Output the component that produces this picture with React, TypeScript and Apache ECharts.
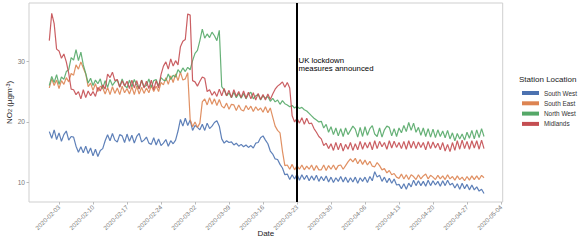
import React, { useEffect, useRef } from "react";
import * as echarts from "echarts";

// Half-daily NO2 readings, starting 2020-02-01 00:00 UTC, one value every 12 hours
const START = "2020-02-01";
const southWest = [
  18.4, 17.3, 18.7, 17.1, 18.2, 16.8, 17.9, 18.5, 17.0, 17.6, 17.5, 16.0, 15.0, 15.9, 14.9, 16.0,
  14.8, 15.7, 14.4, 15.5, 14.3, 15.3, 15.6, 16.9, 17.9, 16.9, 18.1, 17.0, 16.7, 17.9, 17.7, 16.6,
  18.0, 16.8, 17.8, 16.5, 17.6, 18.1, 16.7, 17.0, 17.5, 16.5, 16.3, 17.4, 16.2, 17.2, 16.1, 16.5,
  17.1, 16.0, 16.9, 16.4, 17.0, 18.5, 20.4, 19.3, 20.6, 19.4, 20.3, 18.6, 19.4, 19.1, 18.7, 19.6,
  18.6, 19.8, 18.9, 19.3, 19.9, 20.2, 19.3, 17.2, 16.5, 16.9, 16.6, 16.7, 16.2, 16.5, 16.0, 16.3,
  15.9, 16.2, 15.8, 16.1, 15.7, 16.5, 16.6, 17.4, 17.7, 17.0, 16.4, 15.2, 14.7, 13.9, 13.8, 13.0,
  12.4, 11.3, 11.4, 10.5, 11.3, 10.6, 11.4, 10.4, 11.3, 10.5, 11.2, 10.3, 11.1, 10.4, 11.2, 10.2,
  11.0, 10.3, 11.1, 10.1, 10.9, 10.0, 10.8, 10.2, 11.0, 10.1, 10.9, 10.0, 10.8, 10.1, 10.9, 9.9,
  10.8, 10.2, 10.9, 10.0, 11.0, 10.3, 11.8, 10.9, 11.2, 10.2, 10.9, 10.0, 10.7, 9.9, 10.6, 9.6,
  9.7, 9.0, 9.8, 8.9, 9.9, 9.3, 10.4, 9.5, 10.3, 9.5, 10.2, 9.4, 10.4, 9.5, 10.3, 9.6,
  10.2, 9.4, 10.3, 9.5, 10.4, 9.6, 9.9, 9.1, 9.8, 8.9, 9.9, 9.0, 9.7, 8.8, 9.6, 8.8,
  9.3, 8.6, 8.9, 8.2,
];
const southEast = [
  25.6, 27.1, 26.0, 26.9, 25.5, 26.8, 26.2, 27.3, 26.6, 28.0, 27.7, 29.4, 28.7, 29.9, 28.9, 27.9,
  25.8, 26.4, 25.2, 26.3, 25.0, 25.9, 25.6, 24.6, 25.7, 24.5, 25.8, 24.7, 25.6, 24.5, 25.9, 24.8,
  25.5, 24.6, 25.8, 24.5, 25.9, 24.6, 25.7, 24.7, 25.6, 24.8, 26.0, 25.0, 25.9, 25.0, 26.5, 26.1,
  27.3, 26.2, 27.6, 26.5, 27.9, 26.8, 28.2, 26.9, 27.1, 28.1, 20.4, 19.2, 20.0, 19.1, 19.8, 23.3,
  23.8, 22.8, 24.0, 22.9, 23.8, 22.7, 23.7, 22.6, 22.3, 23.1, 22.1, 22.9, 22.8, 21.9, 22.8, 22.0,
  21.8, 22.7, 22.0, 22.6, 21.7, 22.5, 21.9, 22.3, 21.6, 22.5, 21.5, 22.3, 20.8, 19.3, 18.6, 18.2,
  15.2, 12.8, 12.9, 12.2, 13.0, 12.1, 12.8, 12.2, 12.9, 12.1, 12.7, 12.2, 12.9, 12.0, 12.8, 12.1,
  12.1, 12.9, 12.0, 12.8, 12.2, 12.9, 12.1, 12.8, 12.9, 12.2, 12.8, 13.4, 13.9, 13.4, 14.0, 13.1,
  13.8, 13.0, 13.7, 12.9, 13.5, 12.7, 12.6, 13.3, 12.8, 12.1, 12.3, 11.6, 12.0, 11.3, 11.5, 10.9,
  10.7, 11.4, 10.6, 11.3, 10.5, 11.3, 11.0, 10.5, 11.3, 10.6, 11.1, 11.4, 10.6, 11.2, 10.9, 10.5,
  11.2, 10.6, 11.1, 10.5, 11.3, 10.6, 11.0, 10.4, 11.1, 10.5, 10.9, 10.3, 11.0, 10.4, 11.1, 10.5,
  11.1, 10.5, 11.2, 10.8,
];
const northWest = [
  26.0, 27.5, 26.5, 27.8, 26.2, 27.4, 27.0, 28.3, 28.6, 30.6, 30.2, 31.9, 30.1, 31.5, 29.4, 28.0,
  26.4, 27.2, 26.0, 26.9, 26.3, 27.1, 25.5, 26.8, 25.7, 27.0, 26.0, 26.6, 26.9, 25.8, 27.1, 26.0,
  25.6, 26.9, 25.8, 27.0, 26.1, 25.5, 26.9, 25.8, 26.0, 27.1, 25.7, 26.8, 27.0, 25.9, 27.3, 26.9,
  26.8, 27.9, 27.0, 27.7, 27.4, 28.6, 28.1, 28.9, 28.3, 29.0, 28.6, 30.1, 31.3, 31.8, 33.4, 35.3,
  33.8, 34.5, 33.9, 34.8, 34.2, 33.4, 35.1, 25.8, 25.3, 24.3, 24.8, 24.0, 24.9, 24.0, 24.7, 23.9,
  24.7, 23.8, 24.6, 24.9, 23.8, 24.3, 24.5, 23.6, 24.3, 23.9, 24.2, 23.4, 23.9, 23.3, 23.6, 22.9,
  23.5, 23.0, 22.8, 22.5, 22.7, 22.3, 22.6, 22.2, 22.4, 22.0, 21.8, 21.4, 21.0, 20.6, 20.3, 20.0,
  20.1, 19.0, 19.6, 18.3, 19.2, 17.9, 19.0, 17.7, 18.9, 17.6, 19.0, 17.9, 18.6, 19.3, 18.8, 17.5,
  19.1, 17.6, 19.2, 17.8, 18.9, 19.4, 18.0, 17.6, 19.0, 17.5, 18.7, 19.3, 19.1, 17.7, 18.9, 17.6,
  19.0, 18.2, 19.4, 18.4, 19.9, 18.6, 19.8, 18.3, 19.1, 17.8, 19.0, 17.6, 18.9, 17.5, 18.8, 17.4,
  18.7, 17.6, 18.5, 17.4, 18.6, 17.2, 18.2, 16.9, 18.1, 17.2, 18.0, 17.0, 18.3, 17.3, 18.6, 17.2,
  18.7, 17.4, 18.9, 17.6,
];
const midlands = [
  33.4, 37.9, 36.2, 32.0, 31.7, 30.5, 31.2, 29.9, 28.0, 25.4, 25.3, 24.5, 25.0, 23.8, 25.3, 24.0,
  25.1, 24.3, 25.0, 24.2, 25.7, 25.1, 26.1, 25.4, 27.9, 27.3, 28.2, 26.8, 27.0, 25.7, 26.8, 25.9,
  26.7, 25.5, 26.9, 25.6, 26.8, 25.4, 26.9, 25.6, 26.7, 25.5, 26.9, 25.3, 26.8, 25.6, 27.8, 29.2,
  29.9, 28.7, 30.4, 29.2, 30.1, 29.4, 32.4, 33.3, 33.6, 37.8, 37.6, 26.8, 26.6, 25.9, 26.7, 27.4,
  27.2, 25.0, 25.3, 24.4, 25.0, 24.2, 25.4, 24.3, 25.5, 24.3, 25.2, 24.0, 25.3, 24.2, 25.0, 24.0,
  25.1, 23.9, 24.9, 23.8, 24.8, 23.6, 24.7, 23.7, 24.5, 23.6, 24.6, 23.7, 24.6, 25.4, 25.9, 26.2,
  26.6, 25.7, 26.5, 25.6, 21.0, 20.0, 20.6, 19.8, 20.7, 19.6, 20.6, 19.7, 19.8, 18.9, 18.3, 17.6,
  17.2, 16.1, 16.5, 15.6, 16.4, 15.3, 16.6, 15.4, 16.5, 15.2, 16.3, 15.5, 16.6, 15.3, 16.4, 15.4,
  16.8, 15.5, 16.6, 15.7, 16.7, 15.4, 16.9, 15.6, 16.8, 15.9, 16.6, 15.5, 16.9, 15.7, 16.8, 15.8,
  16.6, 15.6, 16.8, 15.5, 16.9, 15.7, 16.8, 15.6, 16.7, 15.8, 16.6, 15.4, 16.8, 15.6, 16.7, 15.7,
  16.5, 15.4, 16.6, 15.2, 16.3, 15.1, 16.6, 15.3, 16.9, 15.5, 17.0, 15.6, 16.8, 15.5, 16.9, 15.7,
  16.9, 15.5, 17.0, 15.6,
];

const seriesNames = ["South West", "South East", "North West", "Midlands"];
const seriesColors = ["#4C72B0", "#DD8452", "#55A868", "#C44E52"];
const xTickLabels = [
  "2020-02-03", "2020-02-10", "2020-02-17", "2020-02-24", "2020-03-02", "2020-03-09", "2020-03-16",
  "2020-03-23", "2020-03-30", "2020-04-06", "2020-04-13", "2020-04-20", "2020-04-27", "2020-05-04",
];
const yTickValues = [10, 20, 30];
const lockdownDate = "2020-03-23";
const annotationText = "UK lockdown\nmeasures announced";
const annotationLevel = 29.45;

const HALF_DAY = 12 * 3600 * 1000;
const t0 = Date.parse(START + "T00:00:00Z");
const toPairs = (arr: number[]) => arr.map((v, i) => [t0 + i * HALF_DAY, v]);
const tickTimes = xTickLabels.map((s) => Date.parse(s + "T00:00:00Z"));
const lockTime = Date.parse(lockdownDate + "T00:00:00Z");

export default function App() {
  const ref = useRef<HTMLDivElement>(null);
  useEffect(() => {
    if (!ref.current) return;
    const chart = echarts.init(ref.current, undefined, { renderer: "svg" });
    const allData = [southWest, southEast, northWest, midlands];
    const font = "Liberation Sans, Arial, sans-serif";
    const series: any[] = allData.map((d, i) => ({
      name: seriesNames[i],
      type: "line",
      data: toPairs(d),
      showSymbol: false,
      symbol: "none",
      color: seriesColors[i],
      lineStyle: { width: 1.2, color: seriesColors[i], opacity: 0.9 },
      z: 2 + i,
    }));
    series[3].markLine = {
      silent: true,
      symbol: ["none", "none"],
      label: { show: false },
      lineStyle: { color: "#000", width: 2, type: "solid" },
      data: [{ xAxis: lockTime }],
      z: 10,
    };
    series[3].markPoint = {
      symbol: "circle",
      symbolSize: 1,
      itemStyle: { color: "rgba(0,0,0,0)" },
      label: {
        show: true,
        position: "right",
        distance: 1,
        formatter: annotationText,
        color: "#000",
        fontSize: 7.8,
        lineHeight: 8,
        fontFamily: font,
        align: "left",
      },
      data: [{ coord: [lockTime, annotationLevel] }],
    };
    chart.setOption({
      animation: false,
      textStyle: { fontFamily: font },
      grid: {
        left: 29,
        top: 3,
        right: 78.3,
        bottom: 40,
        show: true,
        borderColor: "#cfcfcf",
        borderWidth: 1,
        backgroundColor: "#fff",
        containLabel: false,
        outerBoundsMode: "none",
      },
      title: {
        text: "Station Location",
        left: 514,
        top: 70,
        textStyle: { fontSize: 8, fontWeight: "normal", color: "#222", fontFamily: font },
      },
      legend: {
        data: seriesNames,
        orient: "vertical",
        left: 517,
        top: 84,
        icon: "rect",
        itemWidth: 17,
        itemHeight: 4,
        itemGap: 2.3,
        textStyle: { fontSize: 6.4, color: "#333", lineHeight: 8, fontFamily: font },
      },
      xAxis: {
        type: "value",
        min: Date.UTC(2020, 0, 27, 19, 40),
        max: Date.UTC(2020, 4, 4, 8, 24),
        name: "Date",
        nameLocation: "middle",
        nameGap: 27,
        nameMoveOverlap: false,
        nameTextStyle: { fontSize: 8, color: "#222", fontFamily: font },
        axisLine: { show: false },
        splitLine: { show: false },
        axisTick: {
          show: true,
          length: 2.5,
          lineStyle: { color: "#bbb" },
          customValues: tickTimes,
        },
        axisLabel: {
          customValues: tickTimes,
          rotate: 45,
          fontSize: 6.3,
          color: "#777",
          margin: 4,
          hideOverlap: false,
          showMinLabel: true,
          showMaxLabel: true,
          formatter: (v: number) => new Date(v).toISOString().slice(0, 10),
        },
      },
      yAxis: {
        type: "value",
        min: 6.8,
        max: 39.6,
        name: "NO{sub|2} (μgm{sup|-3})",
        nameLocation: "middle",
        nameRotate: 90,
        nameGap: 16,
        nameMoveOverlap: false,
        nameTextStyle: {
          fontSize: 8,
          color: "#222",
          fontFamily: font,
          rich: {
            sub: { fontSize: 5.5, verticalAlign: "bottom", lineHeight: 8, padding: [3, 0, 0, 0] },
            sup: { fontSize: 5.5, verticalAlign: "top", lineHeight: 8, padding: [0, 0, 4, 0] },
          },
        },
        axisLine: { show: false },
        splitLine: { show: false },
        axisTick: {
          show: true,
          length: 2.5,
          lineStyle: { color: "#bbb" },
          customValues: yTickValues,
        },
        axisLabel: {
          customValues: yTickValues,
          fontSize: 6.6,
          color: "#777",
          margin: 4,
        },
      },
      series,
    });
    return () => chart.dispose();
  }, []);
  return (
    <div
      ref={ref}
      style={{ position: "fixed", left: 0, top: 0, width: 581, height: 242, background: "#fff" }}
    />
  );
}
